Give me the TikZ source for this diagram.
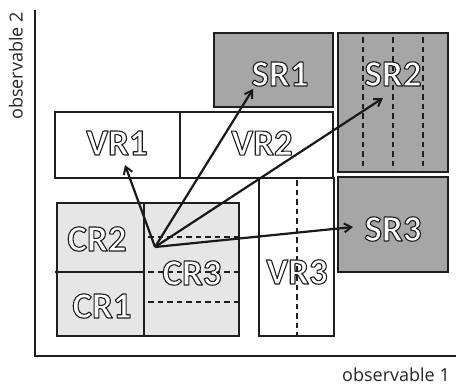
\documentclass[tikz,border=0pt]{standalone}
\usepackage{fontspec}
\setmainfont{Carlito}
\newfontfamily\axisfont{Open Sans}
\usetikzlibrary{arrows.meta}
\definecolor{edge}{HTML}{1E1E1E}
\definecolor{srfill}{HTML}{A6A6A6}
\definecolor{crfill}{HTML}{E6E6E6}
\newcommand{\reglabel}[1]{{\color{white}\special{pdf:literal direct 0.12 G 2 Tr 1.1 w 1 j}#1\special{pdf:literal direct 0 Tr}}}
\tikzset{
  box/.style={draw=edge, line width=1.3pt},
  srbox/.style={box, fill=srfill},
  crbox/.style={box, fill=crfill},
  vrbox/.style={box, fill=white},
  dline/.style={draw=edge, line width=1.4pt, dash pattern=on 5.5pt off 4pt},
  lbl/.style={font=\bfseries\fontsize{37}{39}\selectfont, inner sep=0pt},
  axlbl/.style={font=\axisfont\fontsize{18}{20}\selectfont, text=black!85, inner sep=0pt},
  axis/.style={draw=edge, line width=1.4pt},
  arr/.style={draw=black!90, line width=2.2pt, -{Straight Barb[length=7pt,width=9pt,line width=2pt]}}
}
\begin{document}
\begin{tikzpicture}[x=1pt,y=-1pt]
\useasboundingbox (0,0) rectangle (458,386);
% axes
\coordinate (top) at (35,10);
\coordinate (origin) at (35,356);
\coordinate (right) at (456,356);
\draw[axis] (top) -- (origin) -- (right);
\node[axlbl, rotate=90] (ax2) at (16,66) {observable 2};
\node[axlbl] (ax1) at (396,375) {observable 1};
% signal regions
\draw[srbox] (214,33) rectangle (333,107);
\draw[srbox] (338,33) rectangle (448,172);
\draw[srbox] (338,177) rectangle (448,272);
\foreach \xx in {363,393,423} \draw[dline] (\xx,37) -- (\xx,170);
% validation regions
\draw[vrbox] (55,112) rectangle (180,178);
\draw[vrbox] (180,112) rectangle (333,178);
\draw[vrbox] (259,178) rectangle (334,336);
\draw[dline] (297,180) -- (297,336);
% control regions
\draw[crbox] (57,203) rectangle (144,336);
\draw[crbox] (144,203) rectangle (239,336);
\draw[box] (55,272) -- (144,272);
\foreach \yy in {237,272,302} \draw[dline] (148,\yy) -- (239,\yy);
% labels
\node[lbl] (sr1) at (280,74) {\reglabel{SR1}};
\node[lbl] (sr2) at (393,74) {\reglabel{SR2}};
\node[lbl] (sr3) at (393,229) {\reglabel{SR3}};
\node[lbl] (vr1) at (117,143) {\reglabel{VR1}};
\node[lbl] (vr2) at (262,143) {\reglabel{VR2}};
\node[lbl] (vr3) at (297,272) {\reglabel{VR3}};
\node[lbl] (cr1) at (102,306) {\reglabel{CR1}};
\node[lbl] (cr2) at (97,239) {\reglabel{CR2}};
\node[lbl] (cr3) at (192,273) {\reglabel{CR3}};
% arrows
\coordinate (apex) at (155,247);
\coordinate (tvr1) at (125,165);
\coordinate (tsr1) at (253,89);
\coordinate (tsr2) at (383,98);
\coordinate (tsr3) at (353,227);
\draw[arr] (apex) -- (tvr1);
\draw[arr] (apex) -- (tsr1);
\draw[arr] (apex) -- (tsr2);
\draw[arr] (apex) -- (tsr3);
\end{tikzpicture}
\end{document}
